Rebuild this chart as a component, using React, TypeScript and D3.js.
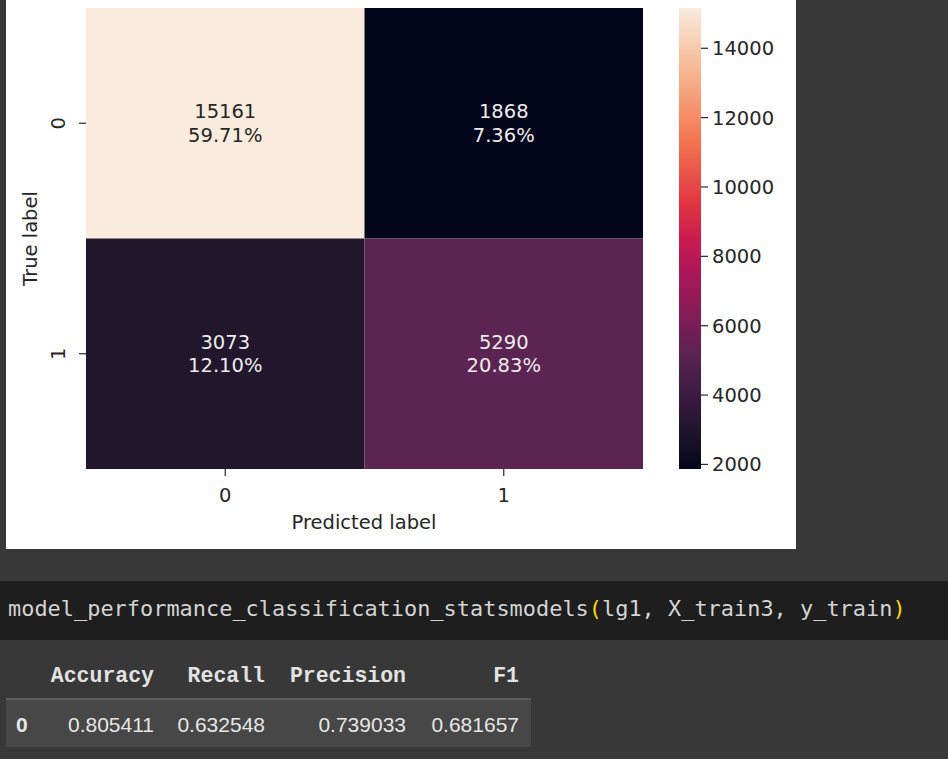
import React from "react";
import * as d3 from "d3";

const trueLabels = ["0", "1"];
const predLabels = ["0", "1"];
const counts = [
  [15161, 1868],
  [3073, 5290],
];
const percents = [
  ["59.71%", "7.36%"],
  ["12.10%", "20.83%"],
];
const cbarTicks = [2000, 4000, 6000, 8000, 10000, 12000, 14000];
const rocketStops = [0, 0.09, 0.143, 0.257, 0.286, 0.429, 0.5, 0.571, 0.714, 0.857, 1];
const rocketColors = ["#03051a", "#22162c", "#35193e", "#5c2452", "#6c1f56", "#ad1759", "#cb1b4f", "#e13342", "#f37651", "#f6b48f", "#faebdd"];

const codeText = "model_performance_classification_statsmodels(lg1, X_train3, y_train)";
const tableHeaders = ["Accuracy", "Recall", "Precision", "F1"];
const tableIndex = ["0"];
const tableValues = [["0.805411", "0.632548", "0.739033", "0.681657"]];

export default function App() {
  const W = 948, H = 759;
  const hm = { x0: 86, x1: 643, y0: 8, y1: 469 };
  const all = counts.flat();
  const vmin = d3.min(all) as number;
  const vmax = d3.max(all) as number;
  const rocket = d3.scaleLinear<string>().domain(rocketStops).range(rocketColors).interpolate(d3.interpolateRgb);
  const color = (v: number) => rocket((v - vmin) / (vmax - vmin));

  const xs = d3.scaleBand().domain(predLabels).range([hm.x0, hm.x1]);
  const ys = d3.scaleBand().domain(trueLabels).range([hm.y0, hm.y1]);

  const cb = { x0: 679, x1: 701 };
  const cs = d3.scaleLinear().domain([vmin, vmax]).range([hm.y1, hm.y0]);

  const font = "'DejaVu Sans', sans-serif";
  const fs = 19.5;
  const ink = "#262626";

  const charW = 13.2;
  const colRight = [154, 265, 406, 519];

  return (
    <svg width={W} height={H} style={{ position: "absolute", left: 0, top: 0 }}>
      <defs>
        <linearGradient id="rocket" x1="0" y1="1" x2="0" y2="0">
          {rocketStops.map((s, i) => (
            <stop key={i} offset={s} stopColor={rocketColors[i]} />
          ))}
        </linearGradient>
      </defs>
      <rect x={0} y={0} width={W} height={H} fill="#383838" />
      <rect x={6} y={0} width={790} height={549} fill="#ffffff" />

      {counts.map((row, i) =>
        row.map((v, j) => {
          const x = xs(predLabels[j]) as number;
          const y = ys(trueLabels[i]) as number;
          const cx = x + xs.bandwidth() / 2;
          const cy = y + ys.bandwidth() / 2;
          const t = (v - vmin) / (vmax - vmin);
          const tc = t > 0.5 ? ink : "#ececec";
          return (
            <g key={`${i}-${j}`}>
              <rect x={x} y={y} width={xs.bandwidth()} height={ys.bandwidth()} fill={color(v)} />
              <text x={cx} y={cy - 5} textAnchor="middle" fontFamily={font} fontSize={fs} fill={tc}>
                {v}
              </text>
              <text x={cx} y={cy + 18.5} textAnchor="middle" fontFamily={font} fontSize={fs} fill={tc}>
                {percents[i][j]}
              </text>
            </g>
          );
        })
      )}

      {predLabels.map((l) => {
        const cx = (xs(l) as number) + xs.bandwidth() / 2;
        return (
          <g key={"x" + l}>
            <line x1={cx} x2={cx} y1={hm.y1} y2={hm.y1 + 7} stroke={ink} strokeWidth={1.2} />
            <text x={cx} y={502} textAnchor="middle" fontFamily={font} fontSize={fs} fill={ink}>
              {l}
            </text>
          </g>
        );
      })}
      {trueLabels.map((l) => {
        const cy = (ys(l) as number) + ys.bandwidth() / 2;
        return (
          <g key={"y" + l}>
            <line x1={hm.x0 - 7} x2={hm.x0} y1={cy} y2={cy} stroke={ink} strokeWidth={1.2} />
            <text x={65} y={cy} transform={`rotate(-90, 65, ${cy})`} textAnchor="middle" fontFamily={font} fontSize={fs} fill={ink}>
              {l}
            </text>
          </g>
        );
      })}
      <text x={364} y={529} textAnchor="middle" fontFamily={font} fontSize={fs} fill={ink}>
        Predicted label
      </text>
      <text x={37} y={238.5} transform="rotate(-90, 37, 238.5)" textAnchor="middle" fontFamily={font} fontSize={fs} fill={ink}>
        True label
      </text>

      <rect x={cb.x0} y={hm.y0} width={cb.x1 - cb.x0} height={hm.y1 - hm.y0} fill="url(#rocket)" />
      {cbarTicks.map((t) => (
        <g key={"c" + t}>
          <line x1={cb.x1} x2={cb.x1 + 7} y1={cs(t)} y2={cs(t)} stroke={ink} strokeWidth={1.2} />
          <text x={712} y={cs(t)} dy="0.36em" fontFamily={font} fontSize={fs} fill={ink}>
            {t}
          </text>
        </g>
      ))}

      <rect x={0} y={581} width={W} height={59} fill="#1e1e1e" />
      <text y={616} fontFamily="'DejaVu Sans Mono', monospace" fontSize={21.9} fill="#d4d4d4">
        {codeText.split("").map((ch, i) => (
          <tspan key={i} x={8 + i * charW} fill={ch === "(" || ch === ")" ? "#ffd700" : "#d4d4d4"}>
            {ch}
          </tspan>
        ))}
      </text>

      {tableHeaders.map((h, i) => (
        <text key={h} x={colRight[i]} y={682} textAnchor="end" fontFamily="'Liberation Mono', monospace" fontWeight="bold" fontSize={21.5} fill="#e3e3e3">
          {h}
        </text>
      ))}
      <rect x={6} y={699} width={525} height={48} fill="#474747" />
      <rect x={6} y={698} width={525} height={2} fill="#5e5e5e" />
      {tableIndex.map((idx, r) => (
        <g key={"r" + idx}>
          <text x={16} y={732} fontFamily="'Liberation Sans', Arial, sans-serif" fontWeight="bold" fontSize={21} fill="#e6e6e6">
            {idx}
          </text>
          {tableValues[r].map((v, i) => (
            <text key={i} x={colRight[i]} y={732} textAnchor="end" fontFamily="'Liberation Sans', Arial, sans-serif" fontSize={21} fill="#e6e6e6">
              {v}
            </text>
          ))}
        </g>
      ))}
    </svg>
  );
}
